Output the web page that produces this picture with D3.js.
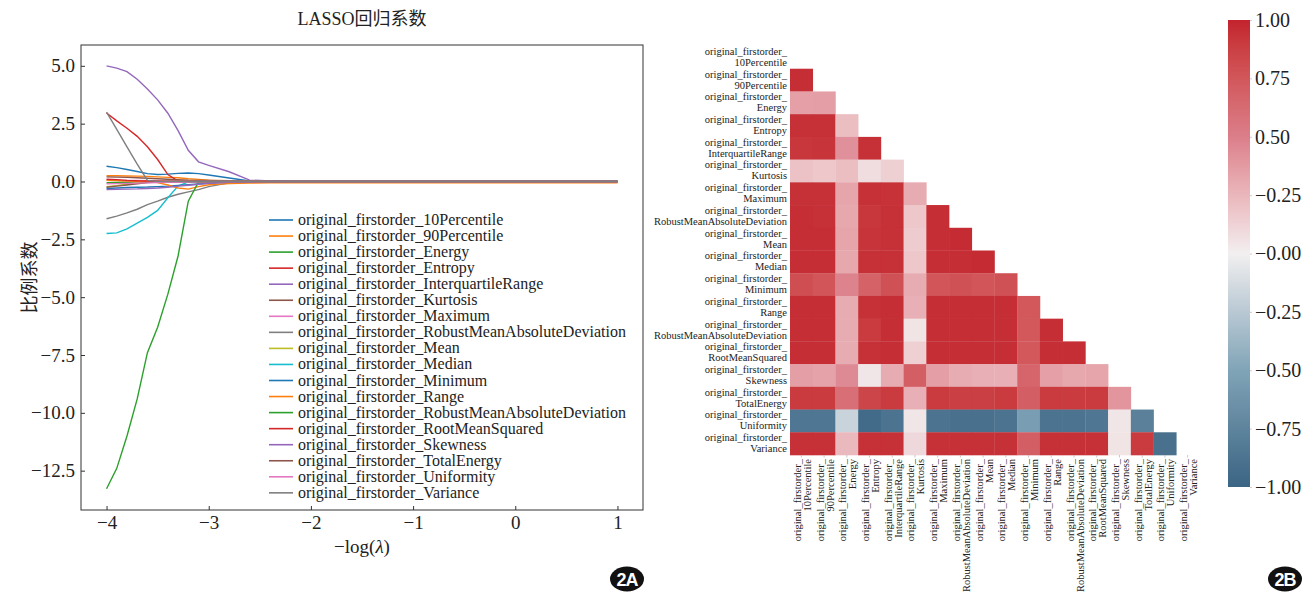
<!DOCTYPE html>
<html>
<head>
<meta charset="utf-8">
<script src="https://cdn.jsdelivr.net/npm/d3@7"></script>
<style>
  html, body { margin: 0; padding: 0; background: #fff; }
  svg { display: block; }
  text { font-family: "Liberation Serif", "Times New Roman", "Noto Sans CJK SC", serif; fill: #222; }
  .cjk { font-family: "Liberation Serif", "Noto Sans CJK SC", serif; }
</style>
</head>
<body>
<svg id="chart" width="1316" height="597"></svg>
<script>
// ---------- data ----------
const featureNames = [
  "10Percentile", "90Percentile", "Energy", "Entropy", "InterquartileRange",
  "Kurtosis", "Maximum", "RobustMeanAbsoluteDeviation", "Mean", "Median",
  "Minimum", "Range", "RobustMeanAbsoluteDeviation", "RootMeanSquared",
  "Skewness", "TotalEnergy", "Uniformity", "Variance"
];
const prefix = "original_firstorder_";

// -log(lambda) grid for the coefficient paths
const negLogLambda = [-4, -3.9, -3.8, -3.7, -3.6, -3.5, -3.4, -3.3, -3.2, -3.1,
                      -3.0, -2.8, -2.6, -2.4, -2.2, -2.0, -1.5, -1.0, 0, 1];

const coef10Percentile   = [0.66, 0.6, 0.52, 0.43, 0.34, 0.3, 0.32, 0.35, 0.37, 0.34, 0.28, 0.15, 0.02, 0, 0, 0, 0, 0, 0, 0];
const coef90Percentile   = [0.25, 0.25, 0.24, 0.23, 0.22, 0.2, 0.18, 0.16, 0.12, 0.09, 0.06, 0.03, 0.01, 0, 0, 0, 0, 0, 0, 0];
const coefEnergy         = [-0.05, -0.04, -0.03, -0.02, -0.01, 0, 0, 0, 0, 0, 0, 0, 0, 0, 0, 0, 0, 0, 0, 0];
const coefEntropy        = [2.96, 2.62, 2.3, 1.95, 1.5, 0.95, 0.3, 0.02, 0, 0, 0, 0, 0, 0, 0, 0, 0, 0, 0, 0];
const coefIQR            = [5.0, 4.9, 4.75, 4.42, 4.0, 3.53, 2.95, 2.2, 1.35, 0.85, 0.7, 0.42, 0.06, 0.02, 0, 0, 0, 0, 0, 0];
const coefKurtosis       = [0.2, 0.19, 0.18, 0.16, 0.14, 0.12, 0.1, 0.08, 0.06, 0.05, 0.04, 0.02, 0.01, 0, 0, 0, 0, 0, 0, 0];
const coefMaximum        = [0.05, 0.05, 0.04, 0.04, 0.03, 0.03, 0.02, 0.02, 0.01, 0.01, 0, 0, 0, 0, 0, 0, 0, 0, 0, 0];
const coefRMAD           = [-1.61, -1.5, -1.36, -1.2, -1.0, -0.85, -0.68, -0.55, -0.45, -0.35, -0.22, -0.06, 0, 0, 0, 0, 0, 0, 0, 0];
const coefMean           = [-0.22, -0.18, -0.12, -0.05, 0, 0, 0, 0, 0, 0, 0, 0, 0, 0, 0, 0, 0, 0, 0, 0];
const coefMedian         = [-2.25, -2.22, -2.05, -1.8, -1.55, -1.25, -0.7, -0.2, -0.02, 0, 0, 0, 0, 0, 0, 0, 0, 0, 0, 0];
const coefMinimum        = [-0.3, -0.28, -0.26, -0.25, -0.24, -0.22, -0.2, -0.17, -0.14, -0.11, -0.08, -0.04, -0.01, 0, 0, 0, 0, 0, 0, 0];
const coefRange          = [0.05, 0.04, 0.02, 0.01, 0, -0.05, -0.15, -0.28, -0.33, -0.22, -0.14, -0.09, -0.07, -0.06, -0.06, -0.06, -0.06, -0.06, -0.06, -0.06];
const coefRMAD2          = [-13.28, -12.4, -11.0, -9.4, -7.4, -6.3, -4.87, -3.22, -0.85, -0.02, 0, 0, 0, 0, 0, 0, 0, 0, 0, 0];
const coefRMS            = [0.1, 0.08, 0.05, 0.03, 0.02, 0.01, 0, 0, 0, 0, 0, 0, 0, 0, 0, 0, 0, 0, 0, 0];
const coefSkewness       = [-0.35, -0.34, -0.33, -0.32, -0.3, -0.28, -0.25, -0.2, -0.16, -0.12, -0.08, -0.04, -0.02, 0, 0, 0, 0, 0, 0, 0];
const coefTotalEnergy    = [-0.25, -0.2, -0.15, -0.1, -0.05, -0.02, 0, 0, 0, 0, 0, 0, 0, 0, 0, 0, 0, 0, 0, 0];
const coefUniformity     = [-0.1, -0.09, -0.08, -0.07, -0.06, -0.05, -0.04, -0.03, -0.02, -0.01, 0, 0, 0, 0, 0, 0, 0, 0, 0, 0];
const coefVariance       = [3.0, 2.25, 1.5, 0.75, 0.05, 0, 0, 0, 0, 0, 0, 0, 0, 0, 0, 0, 0, 0, 0, 0];

const coefPaths = [coef10Percentile, coef90Percentile, coefEnergy, coefEntropy, coefIQR,
  coefKurtosis, coefMaximum, coefRMAD, coefMean, coefMedian, coefMinimum, coefRange,
  coefRMAD2, coefRMS, coefSkewness, coefTotalEnergy, coefUniformity, coefVariance];

const xTicks = [-4, -3, -2, -1, 0, 1];
const yTicks = [5, 2.5, 0, -2.5, -5, -7.5, -10, -12.5];

// Pearson correlation, lower triangle (row i holds columns 0..i-1)
const corrLower = [
  [],
  [0.96],
  [0.35, 0.36],
  [0.95, 0.95, 0.22],
  [0.92, 0.93, 0.42, 0.95],
  [0.2, 0.18, 0.22, 0.08, 0.14],
  [0.95, 0.95, 0.33, 0.95, 0.94, 0.3],
  [0.96, 0.95, 0.32, 0.92, 0.95, 0.18, 0.96],
  [0.96, 0.96, 0.33, 0.93, 0.95, 0.16, 0.96, 0.97],
  [0.96, 0.96, 0.32, 0.95, 0.95, 0.18, 0.96, 0.96, 0.97],
  [0.8, 0.76, 0.48, 0.68, 0.78, 0.3, 0.76, 0.78, 0.76, 0.78],
  [0.96, 0.96, 0.3, 0.95, 0.96, 0.28, 0.96, 0.96, 0.96, 0.96, 0.74],
  [0.96, 0.96, 0.3, 0.9, 0.96, 0.05, 0.96, 0.96, 0.96, 0.96, 0.74, 0.96],
  [0.96, 0.96, 0.3, 0.95, 0.96, 0.14, 0.96, 0.96, 0.96, 0.96, 0.74, 0.96, 0.96],
  [0.36, 0.34, 0.45, 0.04, 0.3, 0.7, 0.36, 0.3, 0.28, 0.28, 0.66, 0.35, 0.32, 0.33],
  [0.9, 0.9, 0.6, 0.85, 0.9, 0.28, 0.9, 0.88, 0.88, 0.9, 0.7, 0.9, 0.9, 0.9, 0.4],
  [-0.86, -0.86, -0.18, -0.95, -0.88, 0.04, -0.88, -0.9, -0.9, -0.88, -0.55, -0.88, -0.88, -0.86, 0.04, -0.78],
  [0.95, 0.95, 0.24, 0.95, 0.95, 0.1, 0.95, 0.95, 0.95, 0.95, 0.7, 0.95, 0.95, 0.95, 0.05, 0.9, -0.9]
];

const cbarTicks = [1, 0.75, 0.5, 0.25, 0, -0.25, -0.5, -0.75, -1];
const cbarLabels = ["1.00", "0.75", "0.50", "\u22120.25", "\u22120.00", "\u22120.25", "\u22120.50", "\u22120.75", "\u22121.00"];

const tab10 = ["#1f77b4", "#ff7f0e", "#2ca02c", "#d62728", "#9467bd",
               "#8c564b", "#e377c2", "#7f7f7f", "#bcbd22", "#17becf"];

// ---------- drawing ----------
const svg = d3.select("#chart");

// ===== Panel A: LASSO coefficient paths =====
const pA = { left: 81, right: 643, top: 45, bottom: 510 };
const x = d3.scaleLinear().domain([-4.25, 1.25]).range([pA.left, pA.right]);
const y = d3.scaleLinear().domain([-14.2, 5.9]).range([pA.bottom, pA.top]);

const gA = svg.append("g");

const line = d3.line()
  .x((d, i) => x(negLogLambda[i]))
  .y(d => y(d));

gA.append("g").selectAll("path")
  .data(coefPaths)
  .join("path")
  .attr("d", d => line(d))
  .attr("fill", "none")
  .attr("stroke", (d, i) => tab10[i % 10])
  .attr("stroke-width", 1.4);

// axes with inward ticks
const xAxis = gA.append("g")
  .attr("transform", `translate(0,${pA.bottom})`)
  .call(d3.axisBottom(x).tickValues(xTicks).tickFormat(d3.format("d"))
        .tickSizeInner(-4).tickSizeOuter(0).tickPadding(6));
const yAxis = gA.append("g")
  .attr("transform", `translate(${pA.left},0)`)
  .call(d3.axisLeft(y).tickValues(yTicks).tickFormat(d3.format(".1f"))
        .tickSizeInner(-4).tickSizeOuter(0).tickPadding(6));
[xAxis, yAxis].forEach(a => {
  a.select(".domain").remove();
  a.selectAll("line").attr("stroke", "#333");
  a.selectAll("text").attr("font-size", 19).attr("fill", "#222")
    .style("font-family", "'Liberation Serif', serif");
});

// frame
gA.append("rect")
  .attr("x", pA.left).attr("y", pA.top)
  .attr("width", pA.right - pA.left).attr("height", pA.bottom - pA.top)
  .attr("fill", "none").attr("stroke", "#333").attr("stroke-width", 1);

// title and axis labels
gA.append("text").attr("class", "cjk")
  .attr("x", (pA.left + pA.right) / 2).attr("y", 25)
  .attr("text-anchor", "middle").attr("font-size", 18)
  .text("LASSO回归系数");

const xl = gA.append("text")
  .attr("x", (pA.left + pA.right) / 2).attr("y", 553)
  .attr("text-anchor", "middle").attr("font-size", 19);
xl.append("tspan").text("\u2212log(");
xl.append("tspan").attr("font-style", "italic").text("\u03bb");
xl.append("tspan").text(")");

gA.append("text").attr("class", "cjk")
  .attr("transform", `translate(36,${(pA.top + pA.bottom) / 2}) rotate(-90)`)
  .attr("text-anchor", "middle").attr("font-size", 18)
  .text("比例系数");

// legend
const leg = gA.append("g");
const legTop = 220, legStep = 16.05;
featureNames.forEach((name, i) => {
  const cy = legTop + i * legStep;
  leg.append("line")
    .attr("x1", 269).attr("x2", 293).attr("y1", cy).attr("y2", cy)
    .attr("stroke", tab10[i % 10]).attr("stroke-width", 1.6);
  leg.append("text")
    .attr("x", 298).attr("y", cy + 5)
    .attr("font-size", 16)
    .text(prefix + name);
});

// badge
function badge(cx, cy, label) {
  svg.append("ellipse").attr("cx", cx).attr("cy", cy).attr("rx", 17).attr("ry", 12.5)
    .attr("fill", "#111");
  svg.append("text").attr("x", cx).attr("y", cy + 6.5)
    .attr("text-anchor", "middle").attr("font-size", 18).attr("font-weight", "bold")
    .style("font-family", "'Liberation Sans', Arial, sans-serif")
    .style("fill", "#fff").attr("letter-spacing", -1)
    .text(label);
}
badge(627, 579, "2A");

// ===== Panel B: correlation heatmap =====
const hm = { left: 790, top: 46, size: 409 };
const idx = d3.range(featureNames.length);
const xb = d3.scaleBand().domain(idx).range([hm.left, hm.left + hm.size]);
const yb = d3.scaleBand().domain(idx).range([hm.top, hm.top + hm.size]);

const color = d3.scaleLinear()
  .domain([-1, -0.5, 0, 0.5, 1])
  .range(["#3b6584", "#80a4b7", "#f2eff0", "#db7e8a", "#c3232e"])
  .interpolate(d3.interpolateLab)
  .clamp(true);

const cells = [];
corrLower.forEach((row, i) => row.forEach((v, j) => cells.push({ i, j, v })));

const gB = svg.append("g");
gB.selectAll("rect.cell")
  .data(cells)
  .join("rect")
  .attr("class", "cell")
  .attr("x", d => xb(d.j))
  .attr("y", d => yb(d.i))
  .attr("width", xb.bandwidth() + 0.3)
  .attr("height", yb.bandwidth() + 0.3)
  .attr("fill", d => color(d.v));

// row labels (two lines, right aligned)
const rowLab = gB.append("g");
idx.forEach(i => {
  const cy = yb(i) + yb.bandwidth() / 2;
  rowLab.append("text").attr("x", 787).attr("y", cy - 2.5)
    .attr("text-anchor", "end").attr("font-size", 10.5).text(prefix);
  rowLab.append("text").attr("x", 787).attr("y", cy + 8.5)
    .attr("text-anchor", "end").attr("font-size", 10.5).text(featureNames[i]);
});

// column labels (rotated, two lines)
const colLab = gB.append("g");
idx.forEach(j => {
  const cx = xb(j) + xb.bandwidth() / 2;
  colLab.append("text")
    .attr("transform", `translate(${cx - 0.5},459) rotate(-90)`)
    .attr("text-anchor", "end").attr("font-size", 10.5).text(prefix);
  colLab.append("text")
    .attr("transform", `translate(${cx + 9.5},459) rotate(-90)`)
    .attr("text-anchor", "end").attr("font-size", 10.5).text(featureNames[j]);
  colLab.append("line")
    .attr("x1", cx).attr("x2", cx).attr("y1", hm.top + hm.size).attr("y2", hm.top + hm.size + 2.5)
    .attr("stroke", "#bbb").attr("stroke-width", 0.8);
});

// colour bar
const cb = { x: 1228, w: 22, top: 20, bottom: 487 };
const cy = d3.scaleLinear().domain([-1, 1]).range([cb.bottom, cb.top]);
const defs = svg.append("defs");
const grad = defs.append("linearGradient").attr("id", "cbGrad")
  .attr("x1", 0).attr("y1", 1).attr("x2", 0).attr("y2", 0);
d3.range(0, 1.0001, 0.05).forEach(t => {
  grad.append("stop").attr("offset", t).attr("stop-color", color(-1 + 2 * t));
});
svg.append("rect")
  .attr("x", cb.x).attr("y", cb.top).attr("width", cb.w).attr("height", cb.bottom - cb.top)
  .attr("fill", "url(#cbGrad)");

const cbAxis = svg.append("g")
  .attr("transform", `translate(${cb.x + cb.w},0)`)
  .call(d3.axisRight(cy).tickValues(cbarTicks)
        .tickFormat((d, i) => cbarLabels[i])
        .tickSizeInner(2).tickSizeOuter(0).tickPadding(3));
cbAxis.select(".domain").remove();
cbAxis.selectAll("line").attr("stroke", "#ccc");
cbAxis.selectAll("text").attr("font-size", 20).attr("fill", "#222")
  .style("font-family", "'Liberation Serif', serif");

badge(1285, 579, "2B");
</script>
</body>
</html>
